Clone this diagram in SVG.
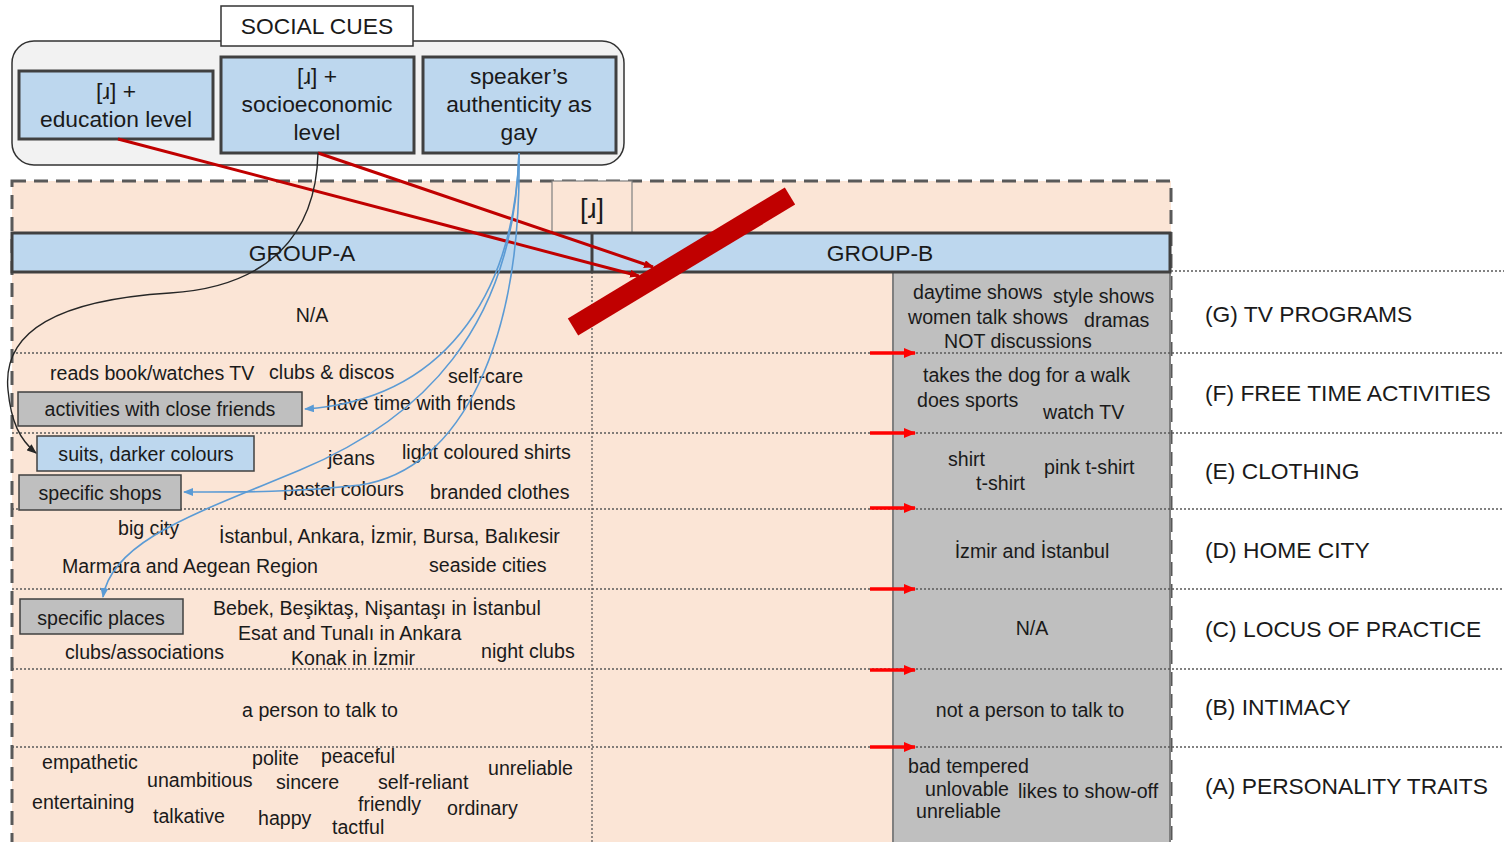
<svg xmlns="http://www.w3.org/2000/svg" width="1504" height="842" viewBox="0 0 1504 842">
  <style>
    text { font-family: "Liberation Sans", Arial, sans-serif; fill: #1a1a1a; }
    .cue { fill: #bdd7ee; stroke: #404040; stroke-width: 3; }
    .hdr { font-size: 22.8px; text-anchor: middle; }
    .t { font-size: 19.6px; }
    .c { text-anchor: middle; }
    .lab { font-size: 22.8px; }
    .gbox { fill: #bfbfbf; stroke: #404040; stroke-width: 1.5; }
    .bbox { fill: #bdd7ee; stroke: #404040; stroke-width: 1.5; }
    .dot { stroke: #595959; stroke-width: 1.3; stroke-dasharray: 2 2; fill: none; }
    .red { stroke: #c00000; stroke-width: 3; fill: none; }
    .blue { stroke: #5b9bd5; stroke-width: 1.6; fill: none; }
    .blk { stroke: #262626; stroke-width: 1.4; fill: none; }
    .rarr { stroke: #ff0000; stroke-width: 3.5; fill: none; }
  </style>
  <defs>
    <marker id="ahRed" markerWidth="10" markerHeight="8" refX="9" refY="4" orient="auto" markerUnits="userSpaceOnUse">
      <path d="M0,0 L10,4 L0,8 Z" fill="#c00000"/>
    </marker>
    <marker id="ahBright" markerWidth="12" markerHeight="10" refX="11" refY="5" orient="auto" markerUnits="userSpaceOnUse">
      <path d="M0,0 L12,5 L0,10 Z" fill="#ff0000"/>
    </marker>
    <marker id="ahBlue" markerWidth="10" markerHeight="8" refX="9" refY="4" orient="auto" markerUnits="userSpaceOnUse">
      <path d="M0,0 L10,4 L0,8 Z" fill="#5b9bd5"/>
    </marker>
    <marker id="ahBlk" markerWidth="10" markerHeight="8" refX="9" refY="4" orient="auto" markerUnits="userSpaceOnUse">
      <path d="M0,0 L10,4 L0,8 Z" fill="#262626"/>
    </marker>
  </defs>

  <rect width="1504" height="842" fill="#ffffff"/>

  <!-- social cues panel -->
  <g id="social-cues">
    <rect x="12" y="41" width="612" height="124" rx="22" fill="#f2f2f2" stroke="#333" stroke-width="1.5"/>
    <rect x="221" y="6" width="192" height="40" fill="#ffffff" stroke="#333" stroke-width="1.5"/>
    <text x="317" y="34" class="hdr">SOCIAL CUES</text>
  </g>
  <g id="cue-education">
    <rect x="19" y="71" width="194" height="68" class="cue"/>
    <text x="116" y="99" class="hdr">[ɹ] +</text>
    <text x="116" y="127" class="hdr">education level</text>
  </g>
  <g id="cue-socioeconomic">
    <rect x="221" y="57" width="193" height="96" class="cue"/>
    <text x="317" y="84" class="hdr">[ɹ] +</text>
    <text x="317" y="112" class="hdr">socioeconomic</text>
    <text x="317" y="140" class="hdr">level</text>
  </g>
  <g id="cue-authenticity">
    <rect x="423" y="57" width="193" height="96" class="cue"/>
    <text x="519" y="84" class="hdr">speaker’s</text>
    <text x="519" y="112" class="hdr">authenticity as</text>
    <text x="519" y="140" class="hdr">gay</text>
  </g>

  <!-- main table -->
  <g id="table">
    <rect x="12" y="181" width="1159" height="670" fill="#fbe5d6" stroke="#595959" stroke-width="3" stroke-dasharray="14 8"/>
    <rect x="893" y="272" width="277" height="580" fill="#bfbfbf" stroke="#7f7f7f" stroke-width="2"/>
    <line x1="592" y1="272" x2="592" y2="842" class="dot"/>
    <line x1="1171" y1="271" x2="1504" y2="271" class="dot"/>
    <line x1="12" y1="353" x2="1504" y2="353" class="dot"/>
    <line x1="12" y1="433" x2="1504" y2="433" class="dot"/>
    <line x1="12" y1="509" x2="1504" y2="509" class="dot"/>
    <line x1="12" y1="589" x2="1504" y2="589" class="dot"/>
    <line x1="12" y1="669" x2="1504" y2="669" class="dot"/>
    <line x1="12" y1="747" x2="1504" y2="747" class="dot"/>
  </g>

  <g id="r-label">
    <rect x="552" y="181" width="80" height="52" fill="#fbe5d6" stroke="#7f7f7f" stroke-width="1.2"/>
    <text x="592" y="218" class="c" font-size="27">[ɹ]</text>
  </g>

  <g id="group-header">
    <rect x="12" y="233" width="1158" height="39" fill="#bdd7ee" stroke="#404040" stroke-width="3"/>
    <line x1="592" y1="233" x2="592" y2="272" stroke="#404040" stroke-width="3"/>
    <text x="302" y="261" class="hdr">GROUP-A</text>
    <text x="880" y="261" class="hdr">GROUP-B</text>
  </g>

  <!-- category labels -->
  <g id="categories" class="lab">
    <text x="1205" y="322">(G) TV PROGRAMS</text>
    <text x="1205" y="401">(F) FREE TIME ACTIVITIES</text>
    <text x="1205" y="479">(E) CLOTHING</text>
    <text x="1205" y="558">(D) HOME CITY</text>
    <text x="1205" y="637">(C) LOCUS OF PRACTICE</text>
    <text x="1205" y="715">(B) INTIMACY</text>
    <text x="1205" y="794">(A) PERSONALITY TRAITS</text>
  </g>

  <!-- group A cells -->
  <g id="row-g-a" class="t">
    <text x="312" y="322" class="c">N/A</text>
  </g>
  <g id="row-f-a" class="t">
    <text x="50" y="380">reads book/watches TV</text>
    <text x="269" y="379">clubs &amp; discos</text>
    <text x="448" y="383">self-care</text>
    <text x="326" y="410">have time with friends</text>
  </g>
  <g id="node-activities">
    <rect x="18" y="392" width="284" height="34" class="gbox"/>
    <text x="160" y="416" class="t c">activities with close friends</text>
  </g>
  <g id="row-e-a" class="t">
    <text x="328" y="465">jeans</text>
    <text x="402" y="459">light coloured shirts</text>
    <text x="283" y="496">pastel colours</text>
    <text x="430" y="499">branded clothes</text>
  </g>
  <g id="node-suits">
    <rect x="37" y="436" width="217" height="35" class="bbox"/>
    <text x="146" y="461" class="t c">suits, darker colours</text>
  </g>
  <g id="node-shops">
    <rect x="19" y="475" width="162" height="35" class="gbox"/>
    <text x="100" y="500" class="t c">specific shops</text>
  </g>
  <g id="row-d-a" class="t">
    <text x="118" y="535">big city</text>
    <text x="219" y="543">İstanbul, Ankara, İzmir, Bursa, Balıkesir</text>
    <text x="62" y="573">Marmara and Aegean Region</text>
    <text x="429" y="572">seaside cities</text>
  </g>
  <g id="node-places">
    <rect x="20" y="599" width="163" height="35" class="gbox"/>
    <text x="101" y="625" class="t c">specific places</text>
  </g>
  <g id="row-c-a" class="t">
    <text x="213" y="615">Bebek, Beşiktaş, Nişantaşı in İstanbul</text>
    <text x="238" y="640">Esat and Tunalı in Ankara</text>
    <text x="65" y="659">clubs/associations</text>
    <text x="291" y="665">Konak in İzmir</text>
    <text x="481" y="658">night clubs</text>
  </g>
  <g id="row-b-a" class="t">
    <text x="320" y="717" class="c">a person to talk to</text>
  </g>
  <g id="row-a-a" class="t">
    <text x="42" y="769">empathetic</text>
    <text x="252" y="765">polite</text>
    <text x="321" y="763">peaceful</text>
    <text x="488" y="775">unreliable</text>
    <text x="147" y="787">unambitious</text>
    <text x="276" y="789">sincere</text>
    <text x="378" y="789">self-reliant</text>
    <text x="32" y="809">entertaining</text>
    <text x="153" y="823">talkative</text>
    <text x="258" y="825">happy</text>
    <text x="358" y="811">friendly</text>
    <text x="447" y="815">ordinary</text>
    <text x="332" y="834">tactful</text>
  </g>

  <!-- group B cells -->
  <g id="row-g-b" class="t">
    <text x="913" y="299">daytime shows</text>
    <text x="1053" y="303">style shows</text>
    <text x="908" y="324">women talk shows</text>
    <text x="1084" y="327">dramas</text>
    <text x="944" y="348">NOT discussions</text>
  </g>
  <g id="row-f-b" class="t">
    <text x="923" y="382">takes the dog for a walk</text>
    <text x="917" y="407">does sports</text>
    <text x="1043" y="419">watch TV</text>
  </g>
  <g id="row-e-b" class="t">
    <text x="948" y="466">shirt</text>
    <text x="976" y="490">t-shirt</text>
    <text x="1044" y="474">pink t-shirt</text>
  </g>
  <g id="row-d-b" class="t">
    <text x="1032" y="558" class="c">İzmir and İstanbul</text>
  </g>
  <g id="row-c-b" class="t">
    <text x="1032" y="635" class="c">N/A</text>
  </g>
  <g id="row-b-b" class="t">
    <text x="1030" y="717" class="c">not a person to talk to</text>
  </g>
  <g id="row-a-b" class="t">
    <text x="908" y="773">bad tempered</text>
    <text x="925" y="796">unlovable</text>
    <text x="1018" y="798">likes to show-off</text>
    <text x="916" y="818">unreliable</text>
  </g>

  <!-- connectors -->
  <g id="connectors">
    <line x1="118" y1="139" x2="639" y2="276" class="red" marker-end="url(#ahRed)"/>
    <line x1="318" y1="153" x2="653" y2="267" class="red" marker-end="url(#ahRed)"/>
    <path d="M318,153 C316,235 268,287 170,293 C60,300 2,330 8,390 C11,422 20,440 36,453" class="blk" marker-end="url(#ahBlk)"/>
    <path d="M519,153 C514,300 440,400 305,409" class="blue" marker-end="url(#ahBlue)"/>
    <path d="M519,153 C522,340 462,470 360,485 C290,493 230,492 184,492" class="blue" marker-end="url(#ahBlue)"/>
    <path d="M519,153 C514,330 420,420 300,470 C200,512 112,540 103,597" class="blue" marker-end="url(#ahBlue)"/>
    <line x1="870" y1="353" x2="915" y2="353" class="rarr" marker-end="url(#ahBright)"/>
    <line x1="870" y1="433" x2="915" y2="433" class="rarr" marker-end="url(#ahBright)"/>
    <line x1="870" y1="508" x2="915" y2="508" class="rarr" marker-end="url(#ahBright)"/>
    <line x1="870" y1="589" x2="915" y2="589" class="rarr" marker-end="url(#ahBright)"/>
    <line x1="870" y1="670" x2="915" y2="670" class="rarr" marker-end="url(#ahBright)"/>
    <line x1="870" y1="747" x2="915" y2="747" class="rarr" marker-end="url(#ahBright)"/>
  </g>

  <!-- strike-through bar -->
  <line x1="573" y1="327" x2="790" y2="196" stroke="#c00000" stroke-width="20"/>
</svg>
